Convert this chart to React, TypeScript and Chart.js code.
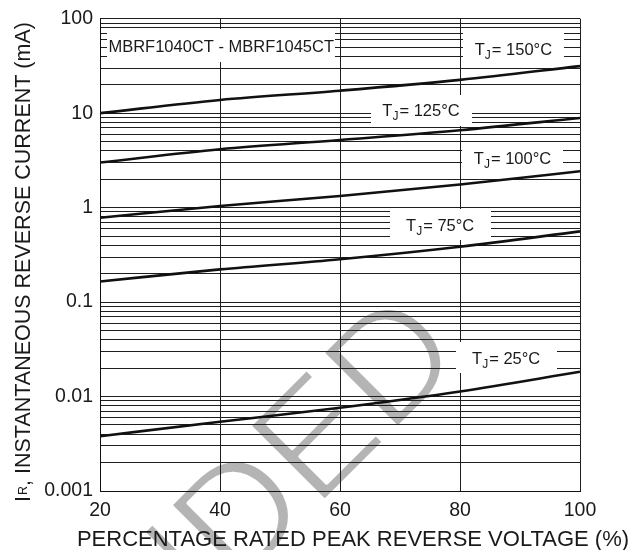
import React, { useEffect, useRef } from 'react';
import { Chart, registerables } from 'chart.js';

Chart.register(...registerables);

const FONT = "'Liberation Sans', Arial, Helvetica, sans-serif";

// ---- data ----
const voltagePct = [20, 40, 60, 80, 100];
const ir150C = [10, 13.8, 17.3, 22.5, 31.5];
const ir125C = [3.0, 4.15, 5.2, 6.6, 8.9];
const ir100C = [0.78, 1.04, 1.33, 1.76, 2.43];
const ir75C = [0.165, 0.222, 0.284, 0.385, 0.56];
const ir25C = [0.0038, 0.0054, 0.0076, 0.0113, 0.0183];

const seriesTemps = ['150°C', '125°C', '100°C', '75°C', '25°C'];
const xTickValues = [20, 40, 60, 80, 100];
const yDecades = [0.001, 0.01, 0.1, 1, 10, 100];
const yTickLabels = ['0.001', '0.01', '0.1', '1', '10', '100'];
const yMinorMantissas = [1, 2, 3, 4, 5, 6, 7, 8, 9];

const partLabel = 'MBRF1040CT - MBRF1045CT';
const xTitle = 'PERCENTAGE RATED PEAK REVERSE VOLTAGE (%)';
const yTitleMain = 'I';
const yTitleSub = 'R';
const yTitleRest = ', INSTANTANEOUS REVERSE CURRENT (mA)';
const watermarkText = 'NOT RECOMMENDED';

// label anchors in data coordinates [x %, y mA]
const partAnchor = [40.2, 51.6];
const tempAnchors = [
  [88.9, 48],
  [73.5, 10.7],
  [88.75, 3.33],
  [76.7, 0.657],
  [87.7, 0.0256],
];

const series = [ir150C, ir125C, ir100C, ir75C, ir25C];

function buildYGridTicks() {
  const t: { value: number }[] = [];
  for (let i = 0; i < yDecades.length - 1; i++) {
    for (const m of yMinorMantissas) t.push({ value: +(yDecades[i] * m).toPrecision(6) });
  }
  t.push({ value: yDecades[yDecades.length - 1] });
  return t;
}

function decadeLabel(v: number) {
  for (let i = 0; i < yDecades.length; i++) {
    if (Math.abs(Math.log10(v) - Math.log10(yDecades[i])) < 1e-6) return yTickLabels[i];
  }
  return '';
}

const watermarkPlugin = {
  id: 'watermark',
  beforeDraw(chart: any) {
    const ctx = chart.ctx;
    ctx.save();
    ctx.fillStyle = '#fff';
    ctx.fillRect(0, 0, chart.width, chart.height);
    ctx.translate(468, 358);
    ctx.rotate(-Math.PI / 4);
    ctx.font = `155px ${FONT}`;
    ctx.fillStyle = '#b4b4b4';
    ctx.textAlign = 'right';
    ctx.textBaseline = 'alphabetic';
    ctx.fillText(watermarkText, 0, 0);
    // thin the strokes of the watermark lettering
    ctx.strokeStyle = '#fff';
    ctx.lineWidth = 4;
    ctx.lineJoin = 'round';
    ctx.strokeText(watermarkText, 0, 0);
    ctx.restore();
  },
};

const labelsPlugin = {
  id: 'labels',
  beforeDatasetsDraw(chart: any) {
    const { ctx, scales } = chart;
    const xs = scales.x;
    const ys = scales.y;
    ctx.save();
    {
      const cx = xs.getPixelForValue(partAnchor[0]);
      const cy = ys.getPixelForValue(partAnchor[1]);
      const w = 228, h = 33;
      ctx.fillStyle = '#fff';
      ctx.fillRect(Math.round(cx - w / 2), Math.round(cy - h / 2), w, h);
      ctx.font = `16.5px ${FONT}`;
      ctx.fillStyle = '#1a1a1a';
      ctx.textAlign = 'center';
      ctx.textBaseline = 'alphabetic';
      ctx.fillText(partLabel, cx, cy + 6);
    }
    tempAnchors.forEach((a, i) => {
      const cx = xs.getPixelForValue(a[0]);
      const cy = ys.getPixelForValue(a[1]);
      const w = 101, h = 31;
      ctx.fillStyle = '#fff';
      ctx.fillRect(Math.round(cx - w / 2), Math.round(cy - h / 2), w, h);
      const mainFont = `16.5px ${FONT}`;
      const subFont = `12px ${FONT}`;
      const rest = '= ' + seriesTemps[i];
      ctx.font = mainFont;
      const wT = ctx.measureText('T').width;
      const wRest = ctx.measureText(rest).width;
      ctx.font = subFont;
      const wJ = ctx.measureText('J').width;
      const total = wT + wJ + 1 + wRest;
      let x0 = cx - total / 2;
      const base = cy + 6;
      ctx.fillStyle = '#1a1a1a';
      ctx.textAlign = 'left';
      ctx.textBaseline = 'alphabetic';
      ctx.font = mainFont;
      ctx.fillText('T', x0, base);
      x0 += wT;
      ctx.font = subFont;
      ctx.fillText('J', x0, base + 4);
      x0 += wJ + 1;
      ctx.font = mainFont;
      ctx.fillText(rest, x0, base);
    });
    ctx.restore();
  },
  afterDraw(chart: any) {
    const ctx = chart.ctx;
    ctx.save();
    ctx.fillStyle = '#1a1a1a';
    ctx.font = `22px ${FONT}`;
    ctx.textAlign = 'center';
    ctx.textBaseline = 'alphabetic';
    ctx.fillText(xTitle, 353, 546);
    ctx.translate(22, 262);
    ctx.rotate(-Math.PI / 2);
    const mainFont = `21.5px ${FONT}`;
    const subFont = `12.5px ${FONT}`;
    ctx.font = mainFont;
    const wI = ctx.measureText(yTitleMain).width;
    const wRest = ctx.measureText(yTitleRest).width;
    ctx.font = subFont;
    const wR = ctx.measureText(yTitleSub).width;
    const total = wI + 1 + wR + wRest;
    let x0 = -total / 2;
    const base = 7.7;
    ctx.textAlign = 'left';
    ctx.font = mainFont;
    ctx.fillText(yTitleMain, x0, base);
    x0 += wI + 1;
    ctx.font = subFont;
    ctx.fillText(yTitleSub, x0, base - 3);
    x0 += wR;
    ctx.font = mainFont;
    ctx.fillText(yTitleRest, x0, base);
    ctx.restore();
  },
};

export default function App() {
  const canvasRef = useRef<HTMLCanvasElement | null>(null);

  useEffect(() => {
    const canvas = canvasRef.current;
    if (!canvas) return;
    const chart = new Chart(canvas, {
      type: 'line',
      data: {
        datasets: series.map((arr, i) => ({
          label: seriesTemps[i],
          data: voltagePct.map((x, j) => ({ x, y: arr[j] })),
          borderColor: '#111',
          borderWidth: 2.6,
          pointRadius: 0,
          cubicInterpolationMode: 'monotone' as const,
          fill: false,
        })),
      },
      options: {
        responsive: false,
        animation: false,
        devicePixelRatio: 1,
        layout: { padding: { left: 0, right: 55, top: 12, bottom: 0 } },
        plugins: {
          legend: { display: false },
          tooltip: { enabled: false },
          title: { display: false },
        },
        scales: {
          x: {
            type: 'linear',
            min: xTickValues[0],
            max: xTickValues[xTickValues.length - 1],
            afterBuildTicks: (axis: any) => {
              axis.ticks = xTickValues.map((v) => ({ value: v }));
            },
            afterFit: (axis: any) => {
              axis.height = 59;
            },
            ticks: {
              color: '#1a1a1a',
              font: { family: FONT, size: 19.5 },
              padding: 8,
              maxRotation: 0,
              autoSkip: false,
              callback: (v: any) => String(v),
            },
            grid: { color: '#1e1e1e', lineWidth: 1, drawTicks: false },
            border: { color: '#111', width: 1 },
          },
          y: {
            type: 'logarithmic',
            min: yDecades[0],
            max: yDecades[yDecades.length - 1],
            afterBuildTicks: (axis: any) => {
              axis.ticks = buildYGridTicks();
            },
            afterFit: (axis: any) => {
              axis.width = 100;
            },
            ticks: {
              color: '#1a1a1a',
              font: { family: FONT, size: 19.5 },
              padding: 7,
              autoSkip: false,
              callback: (v: any) => decadeLabel(Number(v)),
            },
            grid: { color: '#1e1e1e', lineWidth: 1, drawTicks: false },
            border: { color: '#111', width: 1 },
          },
        },
      } as any,
      plugins: [watermarkPlugin, labelsPlugin],
    });
    return () => chart.destroy();
  }, []);

  return (
    <div style={{ position: 'fixed', left: 0, top: 0, width: 635, height: 550, background: '#fff' }}>
      <canvas ref={canvasRef} width={635} height={550} style={{ display: 'block' }} />
    </div>
  );
}
